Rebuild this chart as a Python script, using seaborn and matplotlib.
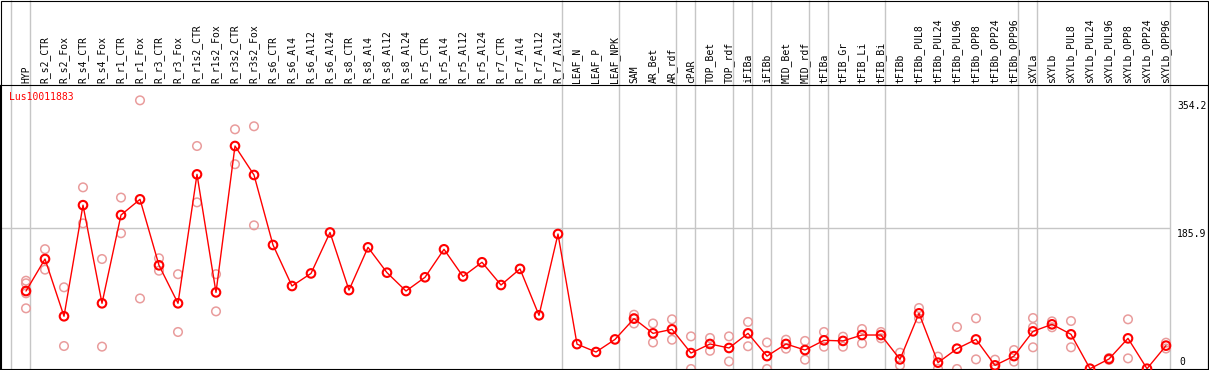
import numpy as np
import pandas as pd
import matplotlib
matplotlib.use("Agg")
import matplotlib.pyplot as plt
import matplotlib.transforms as mtransforms
import seaborn as sns

# sample names, in plot order
samples = ["HYP",
           "R_s2_CTR", "R_s2_Fox", "R_s4_CTR", "R_s4_Fox", "R_r1_CTR", "R_r1_Fox",
           "R_r3_CTR", "R_r3_Fox", "R_r1s2_CTR", "R_r1s2_Fox", "R_r3s2_CTR", "R_r3s2_Fox",
           "R_s6_CTR", "R_s6_Al4", "R_s6_Al12", "R_s6_Al24",
           "R_s8_CTR", "R_s8_Al4", "R_s8_Al12", "R_s8_Al24",
           "R_r5_CTR", "R_r5_Al4", "R_r5_Al12", "R_r5_Al24",
           "R_r7_CTR", "R_r7_Al4", "R_r7_Al12", "R_r7_Al24",
           "LEAF_N", "LEAF_P", "LEAF_NPK",
           "SAM", "AR_Bet", "AR_rdf",
           "cPAR",
           "TOP_Bet", "TOP_rdf",
           "iFIBa", "iFIBb",
           "MID_Bet", "MID_rdf",
           "tFIBa", "tFIB_Gr", "tFIB_Li", "tFIB_Bi",
           "tFIBb", "tFIBb_PUL8", "tFIBb_PUL24", "tFIBb_PUL96",
           "tFIBb_OPP8", "tFIBb_OPP24", "tFIBb_OPP96",
           "sXYLa",
           "sXYLb", "sXYLb_PUL8", "sXYLb_PUL24", "sXYLb_PUL96",
           "sXYLb_OPP8", "sXYLb_OPP24", "sXYLb_OPP96"]

# how many samples in each tissue block (gray separators)
group_sizes = [1, 28, 3, 3, 1, 2, 1, 1, 2, 1, 3, 7, 1, 7]

# mean expression per sample
means = [102.8,
         145.0, 69.5, 216.0, 86.6, 203.0, 223.7, 136.7, 86.6, 256.6, 101.0, 294.0, 255.8,
         163.5, 109.4, 126.0, 180.0, 104.0, 160.4, 127.0, 102.8,
         120.9, 157.8, 122.0, 140.7, 110.7, 132.0, 70.8, 178.0,
         32.8, 22.4, 39.0,
         66.4, 47.0, 52.3,
         21.0,
         33.0, 27.7,
         47.0, 17.0,
         33.0, 25.0,
         37.8, 37.0, 44.8, 44.8,
         12.7, 73.4, 8.4, 26.8, 39.0, 4.8, 17.0,
         49.6,
         58.9, 45.7, 0.4, 13.2, 40.4, 0.4, 30.8]

# individual replicates (empty where none are shown)
replicates = [(116.4, 113.0, 99.8, 80.0),
              (158.0, 131.0), (107.7, 30.3), (239.5, 192.0), (145.0, 29.5),
              (226.0, 179.0), (354.2, 93.0), (146.0, 129.6), (125.0, 48.8),
              (294.0, 219.7), (125.0, 76.0), (316.0, 270.0), (320.0, 189.4),
              (), (), (), (), (), (), (), (),
              (), (), (), (), (), (), (), (),
              (), (), (),
              (71.6, 67.0, 60.0), (60.0, 35.0), (65.5, 38.6),
              (43.0, 0.0),
              (40.9, 24.0), (43.0, 10.0),
              (62.0, 30.0), (35.0, 0.0),
              (38.6, 26.8), (37.0, 12.3),
              (48.8, 29.4), (42.6, 29.4), (52.7, 33.8), (48.8, 40.5),
              (21.5, 4.8), (80.4, 66.8), (16.3, 0.4), (55.4, 0.0),
              (66.8, 12.7), (12.3, 0.0), (25.0, 9.7),
              (67.2, 55.0, 28.6),
              (62.8, 55.0), (63.3, 28.6), (), (14.5, 12.0),
              (65.5, 14.0), (), (34.7, 27.0)]

axis_labels = ["354.2", "185.9", "0"]
axis_values = [354.2, 185.9, 0.0]
gene = "Lus10011883"

sns.set_theme(style="white")
plt.rcParams["font.family"] = ["DejaVu Sans Mono"]
plt.rcParams["text.color"] = "black"
plt.rcParams["xtick.color"] = "black"

W, H = 1209, 370
fig = plt.figure(figsize=(W / 100, H / 100), dpi=100)
ax = fig.add_axes([0, 1 / H, 1208 / W, 284 / H])

pos = np.arange(len(samples))
mean_df = pd.DataFrame({"pos": pos, "value": means})
rep_df = pd.DataFrame([(i, v) for i, reps in enumerate(replicates) for v in reps],
                      columns=["pos", "value"])

grey = "#c6c6c6"
# separators between tissue blocks
ends = np.cumsum(group_sizes) - 1 + 4 / 19
ends = np.concatenate([[-1 + 4 / 19], ends])
trans = mtransforms.blended_transform_factory(ax.transData, ax.transAxes)
ax.vlines(ends, 0, 369 / 284, transform=trans, color=grey, lw=1, clip_on=False, zorder=1)
ax.hlines(185.9, -26 / 19, ends[-1], color=grey, lw=1, zorder=1)

sns.scatterplot(data=rep_df, x="pos", y="value", ax=ax, marker="o", s=38,
                facecolor="none", edgecolor="#e99c9c", linewidth=1.1, zorder=2, clip_on=False)
sns.lineplot(data=mean_df, x="pos", y="value", ax=ax, color="#ff0000", lw=1, zorder=3)
sns.scatterplot(data=mean_df, x="pos", y="value", ax=ax, marker="o", s=38,
                facecolor="none", edgecolor="#ff0000", linewidth=1.5, zorder=4, clip_on=False)

ax.set_xlim(-26 / 19, (1208 - 26) / 19)
ax.set_ylim(0, 284 / 0.7585)

ax.xaxis.tick_top()
ax.set_xticks(pos)
ax.set_xticklabels(samples, rotation=90, fontsize=7, color="black")
ax.tick_params(axis="x", length=0, pad=1.5)
ax.set_yticks([])
ax.set_xlabel("")
ax.set_ylabel("")
for s in ax.spines.values():
    s.set_color("black")
    s.set_linewidth(0.8)

ytrans = mtransforms.blended_transform_factory(ax.transAxes, ax.transData)
for lab, val in zip(axis_labels, axis_values):
    if val == 0:
        ax.text(1179 / 1208, val + 3, lab, transform=ytrans, fontsize=7,
                ha="left", va="bottom", color="black")
    else:
        ax.text(1177 / 1208, val - 1, lab, transform=ytrans, fontsize=7,
                ha="left", va="top", color="black")

ax.text(9 / 1208, 1 - 12 / 284, gene, transform=ax.transAxes, color="#ff0000",
        fontsize=7, ha="left", va="center")

fig.add_artist(plt.Rectangle((0.5 / W, 0.5 / H), 1 - 1.5 / W, 1 - 1 / H,
                             transform=fig.transFigure, fill=False, ec="black", lw=0.8))

fig.savefig("out.png", dpi=100)
